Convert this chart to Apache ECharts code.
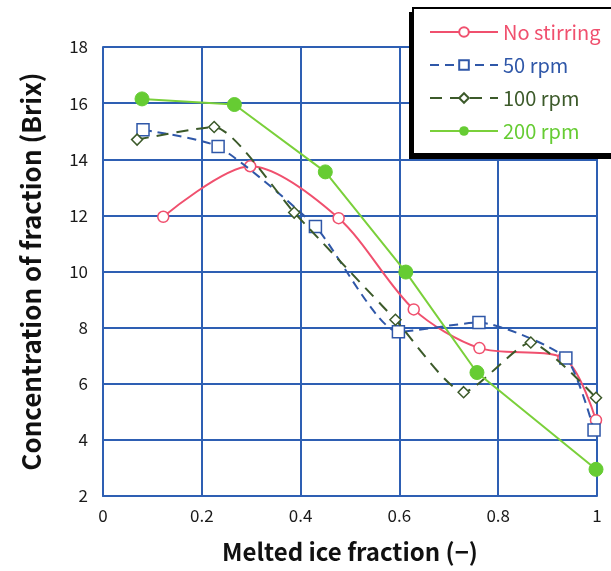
<!DOCTYPE html>
<html><head><meta charset="utf-8">
<script src="https://cdn.jsdelivr.net/npm/echarts@6/dist/echarts.min.js"></script>
<style>html,body{margin:0;padding:0;background:#fff}#c{width:611px;height:571px}</style>
</head><body><div id="c"></div>
<script>
const xTicks = [0, 0.2, 0.4, 0.6, 0.8, 1];
const yTicks = [2, 4, 6, 8, 10, 12, 14, 16, 18];
const seriesNames = ["No stirring", "50 rpm", "100 rpm", "200 rpm"];
const noStirX = [0.122, 0.298, 0.477, 0.629, 0.762, 0.932, 0.998];
const noStirY = [11.95, 13.75, 11.9, 8.65, 7.27, 6.92, 4.7];
const rpm50X = [0.081, 0.233, 0.43, 0.598, 0.761, 0.937, 0.994];
const rpm50Y = [15.05, 14.45, 11.6, 7.85, 8.18, 6.92, 4.35];
const rpm100X = [0.069, 0.225, 0.387, 0.592, 0.73, 0.866, 0.998];
const rpm100Y = [14.7, 15.15, 12.1, 8.28, 5.7, 7.47, 5.5];
const rpm200X = [0.079, 0.266, 0.45, 0.613, 0.757, 0.998];
const rpm200Y = [16.15, 15.95, 13.55, 9.98, 6.4, 2.95];

const pair = (xs, ys) => xs.map((x, i) => [x, ys[i]]);
const gridBlue = '#2e5fb3';
const font = '"Noto Sans CJK JP", "Noto Sans", sans-serif';
const chart = echarts.init(document.getElementById('c'), null, {renderer: 'canvas'});
chart.setOption({
  animation: false,
  backgroundColor: '#fff',
  grid: {left: 103, right: 14, top: 47, bottom: 75, containLabel: false},
  xAxis: {
    type: 'value', min: xTicks[0], max: xTicks[xTicks.length - 1], interval: 0.2,
    name: 'Melted ice fraction (−)', nameLocation: 'middle', nameGap: 44,
    nameTextStyle: {fontFamily: font, fontSize: 24, fontWeight: 'bold', color: '#111'},
    axisLine: {lineStyle: {color: gridBlue, width: 2}},
    axisTick: {show: false},
    axisLabel: {fontFamily: font, fontSize: 17, color: '#1a1a1a', margin: 11, formatter: v => String(+v.toFixed(1))},
    splitLine: {show: true, lineStyle: {color: gridBlue, width: 2}}
  },
  yAxis: {
    type: 'value', min: yTicks[0], max: yTicks[yTicks.length - 1], interval: 2,
    name: 'Concentration of fraction (Brix)', nameLocation: 'middle', nameGap: 59,
    nameTextStyle: {fontFamily: font, fontSize: 26, fontWeight: 'bold', color: '#111'},
    axisLine: {show: true, lineStyle: {color: gridBlue, width: 2}},
    axisTick: {show: false},
    axisLabel: {fontFamily: font, fontSize: 17, color: '#1a1a1a', margin: 15},
    splitLine: {show: true, lineStyle: {color: gridBlue, width: 2}}
  },
  graphic: [
    {type: 'rect', shape: {x: 409, y: 12, width: 230, height: 147}, style: {fill: '#000'}, z: 100},
    {type: 'rect', shape: {x: 413, y: 8, width: 230, height: 146}, style: {fill: '#fff', stroke: '#000', lineWidth: 2}, z: 101}
  ],
  legend: {
    left: 424, top: 17, orient: 'vertical', itemGap: 13, itemWidth: 68, itemHeight: 12,
    z: 110,
    textStyle: {fontFamily: font, fontSize: 20},
    data: seriesNames.map((n, i) => ({name: n, textStyle: {color: ['#f0506e', '#2f57a8', '#3c5a2a', '#66cc33'][i]}}))
  },
  series: [
    {name: seriesNames[0], type: 'line', data: pair(noStirX, noStirY), smooth: 0.3,
     symbol: 'circle', symbolSize: 11, itemStyle: {color: '#fff', borderColor: '#f0506e', borderWidth: 1.5},
     lineStyle: {color: '#f0506e', width: 2}, color: '#f0506e', z: 3},
    {name: seriesNames[1], type: 'line', data: pair(rpm50X, rpm50Y), smooth: 0.2,
     symbol: 'rect', symbolSize: 12, itemStyle: {color: '#fff', borderColor: '#2f57a8', borderWidth: 1.5},
     lineStyle: {color: '#2f57a8', width: 2, type: [9, 6]}, color: '#2f57a8', z: 4},
    {name: seriesNames[2], type: 'line', data: pair(rpm100X, rpm100Y), smooth: 0.2,
     symbol: 'diamond', symbolSize: 11, itemStyle: {color: '#fff', borderColor: '#3c5a2a', borderWidth: 1.5},
     lineStyle: {color: '#3c5a2a', width: 2, type: [12, 8]}, color: '#3c5a2a', z: 5},
    {name: seriesNames[3], type: 'line', data: pair(rpm200X, rpm200Y), smooth: false,
     symbol: 'circle', symbolSize: 14, itemStyle: {color: '#66cc33', borderColor: '#66cc33'},
     lineStyle: {color: '#7ad03a', width: 2}, color: '#66cc33', z: 6}
  ]
});
</script>
</body></html>
